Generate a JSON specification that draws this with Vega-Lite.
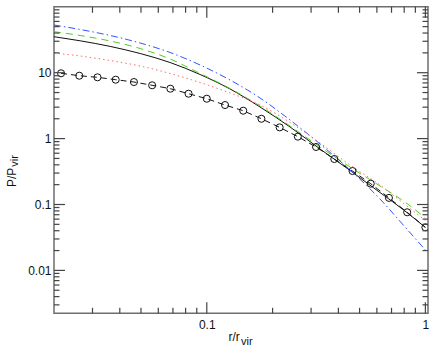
{
  "$schema": "https://vega.github.io/schema/vega-lite/v6.json",
  "autosize": "none",
  "width": 374,
  "height": 306.5,
  "padding": {"left": 54, "top": 6.8, "right": 8, "bottom": 44.7},
  "background": "white",
  "config": {
    "view": {"stroke": "#6e6e6e", "strokeWidth": 1.5},
    "axis": {
      "grid": false,
      "domain": false,
      "ticks": false,
      "labelFont": "Liberation Sans",
      "labelFontSize": 12,
      "labelColor": "#111",
      "titleFont": "Liberation Sans",
      "titleFontSize": 12,
      "titleFontWeight": "normal",
      "titleColor": "#111",
      "labelFlush": false,
      "labelOverlap": false
    }
  },
  "datasets": {
    "xmajor": [{"v": 0.1}, {"v": 1}],
    "xminor": [
      {"v": 0.03}, {"v": 0.04}, {"v": 0.05}, {"v": 0.06}, {"v": 0.07}, {"v": 0.08}, {"v": 0.09},
      {"v": 0.2}, {"v": 0.3}, {"v": 0.4}, {"v": 0.5}, {"v": 0.6}, {"v": 0.7}, {"v": 0.8}, {"v": 0.9}
    ],
    "ymajor": [{"v": 0.01}, {"v": 0.1}, {"v": 1}, {"v": 10}],
    "yminor": [
      {"v": 0.003}, {"v": 0.004}, {"v": 0.005}, {"v": 0.006}, {"v": 0.007}, {"v": 0.008}, {"v": 0.009},
      {"v": 0.02}, {"v": 0.03}, {"v": 0.04}, {"v": 0.05}, {"v": 0.06}, {"v": 0.07}, {"v": 0.08}, {"v": 0.09},
      {"v": 0.2}, {"v": 0.3}, {"v": 0.4}, {"v": 0.5}, {"v": 0.6}, {"v": 0.7}, {"v": 0.8}, {"v": 0.9},
      {"v": 2}, {"v": 3}, {"v": 4}, {"v": 5}, {"v": 6}, {"v": 7}, {"v": 8}, {"v": 9},
      {"v": 20}, {"v": 30}, {"v": 40}, {"v": 50}, {"v": 60}, {"v": 70}, {"v": 80}, {"v": 90}
    ],
    "black": [
      {"x": 0.02, "y": 35.18}, {"x": 0.02634, "y": 30.49}, {"x": 0.03613, "y": 25.07},
      {"x": 0.04955, "y": 19.56}, {"x": 0.06795, "y": 14.28}, {"x": 0.0932, "y": 9.39},
      {"x": 0.1278, "y": 5.656}, {"x": 0.1753, "y": 3.016}, {"x": 0.2404, "y": 1.5},
      {"x": 0.3297, "y": 0.6955}, {"x": 0.4523, "y": 0.3281}, {"x": 0.62, "y": 0.1521},
      {"x": 0.8067, "y": 0.0797}, {"x": 1.0, "y": 0.0448}
    ],
    "green": [
      {"x": 0.02, "y": 41.9}, {"x": 0.02634, "y": 36.69}, {"x": 0.03613, "y": 30.27},
      {"x": 0.04955, "y": 23.29}, {"x": 0.06795, "y": 16.14}, {"x": 0.0932, "y": 9.72},
      {"x": 0.1278, "y": 5.756}, {"x": 0.1753, "y": 3.124}, {"x": 0.2404, "y": 1.553},
      {"x": 0.3297, "y": 0.7456}, {"x": 0.4523, "y": 0.3707}, {"x": 0.62, "y": 0.1909},
      {"x": 0.8067, "y": 0.1091}, {"x": 1.0, "y": 0.0624}
    ],
    "blue": [
      {"x": 0.02, "y": 52.95}, {"x": 0.02634, "y": 45.24}, {"x": 0.03613, "y": 36.69},
      {"x": 0.04955, "y": 28.23}, {"x": 0.06795, "y": 20.26}, {"x": 0.0932, "y": 13.09},
      {"x": 0.1278, "y": 7.75}, {"x": 0.1753, "y": 4.13}, {"x": 0.2404, "y": 1.915},
      {"x": 0.3297, "y": 0.8283}, {"x": 0.4523, "y": 0.3339}, {"x": 0.62, "y": 0.1212},
      {"x": 0.8067, "y": 0.0456}, {"x": 1.0, "y": 0.0204}
    ],
    "pink": [
      {"x": 0.02, "y": 19.91}, {"x": 0.02634, "y": 17.92}, {"x": 0.03613, "y": 15.31},
      {"x": 0.04955, "y": 12.64}, {"x": 0.06795, "y": 9.72}, {"x": 0.0932, "y": 7.1},
      {"x": 0.1278, "y": 4.92}, {"x": 0.1753, "y": 3.236}, {"x": 0.2404, "y": 1.755},
      {"x": 0.3297, "y": 0.8574}, {"x": 0.4523, "y": 0.3975}, {"x": 0.62, "y": 0.1976},
      {"x": 0.8067, "y": 0.1}, {"x": 1.0, "y": 0.0572}
    ],
    "circles": [
      {"x": 0.02154, "y": 9.8}, {"x": 0.0261, "y": 9.0}, {"x": 0.03162, "y": 8.51},
      {"x": 0.03831, "y": 7.83}, {"x": 0.04642, "y": 7.22}, {"x": 0.05623, "y": 6.44},
      {"x": 0.06813, "y": 5.72}, {"x": 0.08254, "y": 4.8}, {"x": 0.1, "y": 4.03},
      {"x": 0.1212, "y": 3.23}, {"x": 0.1468, "y": 2.65}, {"x": 0.1778, "y": 2.0},
      {"x": 0.2154, "y": 1.48}, {"x": 0.261, "y": 1.07}, {"x": 0.3162, "y": 0.746},
      {"x": 0.3831, "y": 0.49}, {"x": 0.4642, "y": 0.322}, {"x": 0.5623, "y": 0.207},
      {"x": 0.6813, "y": 0.126}, {"x": 0.8254, "y": 0.0762}, {"x": 1.0, "y": 0.0451}
    ]
  },
  "resolve": {"axis": {"x": "independent", "y": "independent"}},
  "layer": [
    {
      "data": {"name": "black"},
      "mark": {"type": "line", "color": "#111111", "strokeWidth": 1, "interpolate": "monotone", "clip": true},
      "encoding": {
        "x": {"field": "x", "type": "quantitative",
          "scale": {"type": "log", "domain": [0.02, 1.028], "nice": false},
          "axis": {"orient": "bottom", "values": [0.1, 1], "format": "~g", "labelPadding": 6,
            "title": "r/r", "titleX": 174, "titleY": 27, "titleAngle": 0, "titleAlign": "left", "titleBaseline": "alphabetic"}},
        "y": {"field": "y", "type": "quantitative",
          "scale": {"type": "log", "domain": [0.002234, 100], "nice": false},
          "axis": {"orient": "left", "values": [0.01, 0.1, 1, 10], "format": "~g", "labelPadding": 3,
            "title": "P/P", "titleX": -39, "titleY": 179.7, "titleAngle": 270, "titleAlign": "left", "titleBaseline": "alphabetic"}}
      }
    },
    {
      "data": {"name": "green"},
      "mark": {"type": "line", "color": "#4fcc1e", "strokeWidth": 1, "strokeDash": [7, 5], "interpolate": "monotone", "clip": true},
      "encoding": {
        "x": {"field": "x", "type": "quantitative", "scale": {"type": "log", "domain": [0.02, 1.028], "nice": false}, "axis": null},
        "y": {"field": "y", "type": "quantitative", "scale": {"type": "log", "domain": [0.002234, 100], "nice": false}, "axis": null}
      }
    },
    {
      "data": {"name": "blue"},
      "mark": {"type": "line", "color": "#3355ff", "strokeWidth": 1, "strokeDash": [7, 3, 1.5, 3], "interpolate": "monotone", "clip": true},
      "encoding": {
        "x": {"field": "x", "type": "quantitative", "scale": {"type": "log", "domain": [0.02, 1.028], "nice": false}, "axis": null},
        "y": {"field": "y", "type": "quantitative", "scale": {"type": "log", "domain": [0.002234, 100], "nice": false}, "axis": null}
      }
    },
    {
      "data": {"name": "pink"},
      "mark": {"type": "line", "color": "#ff6a6a", "strokeWidth": 1, "strokeDash": [1.5, 3], "interpolate": "monotone", "clip": true},
      "encoding": {
        "x": {"field": "x", "type": "quantitative", "scale": {"type": "log", "domain": [0.02, 1.028], "nice": false}, "axis": null},
        "y": {"field": "y", "type": "quantitative", "scale": {"type": "log", "domain": [0.002234, 100], "nice": false}, "axis": null}
      }
    },
    {
      "data": {"name": "circles"},
      "mark": {"type": "line", "color": "#111111", "strokeWidth": 1, "strokeDash": [6, 4], "clip": true},
      "encoding": {
        "x": {"field": "x", "type": "quantitative",
          "scale": {"type": "log", "domain": [0.02, 1.028], "nice": false},
          "axis": {"orient": "bottom", "values": [], "labels": false,
            "title": "vir", "titleFontSize": 11, "titleX": 186.5, "titleY": 31.5, "titleAngle": 0, "titleAlign": "left", "titleBaseline": "alphabetic"}},
        "y": {"field": "y", "type": "quantitative",
          "scale": {"type": "log", "domain": [0.002234, 100], "nice": false},
          "axis": {"orient": "left", "values": [], "labels": false,
            "title": "vir", "titleFontSize": 11, "titleX": -36.5, "titleY": 159.5, "titleAngle": 270, "titleAlign": "left", "titleBaseline": "alphabetic"}}
      }
    },
    {
      "data": {"name": "circles"},
      "mark": {"type": "point", "shape": "circle", "filled": false, "color": "#111111", "strokeWidth": 1, "size": 50, "opacity": 1, "clip": true},
      "encoding": {
        "x": {"field": "x", "type": "quantitative", "scale": {"type": "log", "domain": [0.02, 1.028], "nice": false}, "axis": null},
        "y": {"field": "y", "type": "quantitative", "scale": {"type": "log", "domain": [0.002234, 100], "nice": false}, "axis": null}
      }
    },
    {
      "data": {"name": "xmajor"},
      "mark": {"type": "rule", "color": "#444444", "strokeWidth": 1.2, "opacity": 1},
      "encoding": {
        "x": {"field": "v", "type": "quantitative", "scale": {"type": "log", "domain": [0.02, 1.028], "nice": false}, "axis": null},
        "y": {"datum": 0.002234, "type": "quantitative", "scale": {"type": "log", "domain": [0.002234, 100], "nice": false}, "axis": null},
        "y2": {"datum": 0.003282}
      }
    },
    {
      "data": {"name": "xmajor"},
      "mark": {"type": "rule", "color": "#444444", "strokeWidth": 1.2, "opacity": 1},
      "encoding": {
        "x": {"field": "v", "type": "quantitative", "scale": {"type": "log", "domain": [0.02, 1.028], "nice": false}, "axis": null},
        "y": {"datum": 100, "type": "quantitative", "scale": {"type": "log", "domain": [0.002234, 100], "nice": false}, "axis": null},
        "y2": {"datum": 68.07}
      }
    },
    {
      "data": {"name": "xminor"},
      "mark": {"type": "rule", "color": "#444444", "strokeWidth": 1.2, "opacity": 1},
      "encoding": {
        "x": {"field": "v", "type": "quantitative", "scale": {"type": "log", "domain": [0.02, 1.028], "nice": false}, "axis": null},
        "y": {"datum": 0.002234, "type": "quantitative", "scale": {"type": "log", "domain": [0.002234, 100], "nice": false}, "axis": null},
        "y2": {"datum": 0.002708}
      }
    },
    {
      "data": {"name": "xminor"},
      "mark": {"type": "rule", "color": "#444444", "strokeWidth": 1.2, "opacity": 1},
      "encoding": {
        "x": {"field": "v", "type": "quantitative", "scale": {"type": "log", "domain": [0.02, 1.028], "nice": false}, "axis": null},
        "y": {"datum": 100, "type": "quantitative", "scale": {"type": "log", "domain": [0.002234, 100], "nice": false}, "axis": null},
        "y2": {"datum": 81.09}
      }
    },
    {
      "data": {"name": "ymajor"},
      "mark": {"type": "rule", "color": "#444444", "strokeWidth": 1.2, "opacity": 1},
      "encoding": {
        "y": {"field": "v", "type": "quantitative", "scale": {"type": "log", "domain": [0.002234, 100], "nice": false}, "axis": null},
        "x": {"datum": 0.02, "type": "quantitative", "scale": {"type": "log", "domain": [0.02, 1.028], "nice": false}, "axis": null},
        "x2": {"datum": 0.022456}
      }
    },
    {
      "data": {"name": "ymajor"},
      "mark": {"type": "rule", "color": "#444444", "strokeWidth": 1.2, "opacity": 1},
      "encoding": {
        "y": {"field": "v", "type": "quantitative", "scale": {"type": "log", "domain": [0.002234, 100], "nice": false}, "axis": null},
        "x": {"datum": 1.028, "type": "quantitative", "scale": {"type": "log", "domain": [0.02, 1.028], "nice": false}, "axis": null},
        "x2": {"datum": 0.91557}
      }
    },
    {
      "data": {"name": "yminor"},
      "mark": {"type": "rule", "color": "#444444", "strokeWidth": 1.2, "opacity": 1},
      "encoding": {
        "y": {"field": "v", "type": "quantitative", "scale": {"type": "log", "domain": [0.002234, 100], "nice": false}, "axis": null},
        "x": {"datum": 0.02, "type": "quantitative", "scale": {"type": "log", "domain": [0.02, 1.028], "nice": false}, "axis": null},
        "x2": {"datum": 0.021192}
      }
    },
    {
      "data": {"name": "yminor"},
      "mark": {"type": "rule", "color": "#444444", "strokeWidth": 1.2, "opacity": 1},
      "encoding": {
        "y": {"field": "v", "type": "quantitative", "scale": {"type": "log", "domain": [0.002234, 100], "nice": false}, "axis": null},
        "x": {"datum": 1.028, "type": "quantitative", "scale": {"type": "log", "domain": [0.02, 1.028], "nice": false}, "axis": null},
        "x2": {"datum": 0.97018}
      }
    }
  ]
}
